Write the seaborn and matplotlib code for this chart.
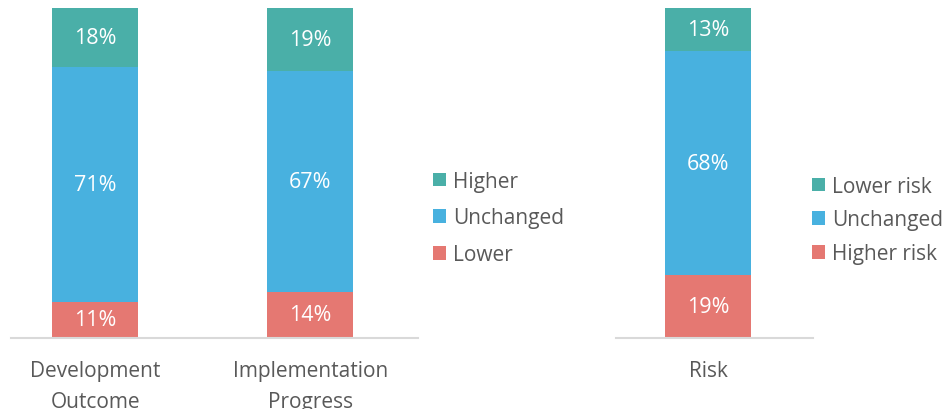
import matplotlib
matplotlib.use("Agg")
import matplotlib.pyplot as plt
import seaborn as sns
import pandas as pd
from matplotlib.patches import Patch

# Left panel: development outcome and implementation progress ratings
categories_left = ["Development\nOutcome", "Implementation\nProgress"]
lower_left = [11, 14]
unchanged_left = [71, 67]
higher_left = [18, 19]
legend_left = ["Higher", "Unchanged", "Lower"]

# Right panel: risk rating
categories_right = ["Risk"]
higher_risk = [19]
unchanged_right = [68]
lower_risk = [13]
legend_right = ["Lower risk", "Unchanged", "Higher risk"]

TEAL = "#4AAFA8"
BLUE = "#48B1DF"
RED = "#E57872"
TEXT = "#595959"
AXIS = "#D9D9D9"
FS = 15
VAL_FS = 15.5

sns.set_theme(style="white")
plt.rcParams["font.family"] = ["Open Sans", "DejaVu Sans"]

W, H = 943, 410
fig = plt.figure(figsize=(W / 100, H / 100), dpi=100)


def px_axes(x0, x1, y0, y1):
    return fig.add_axes([x0 / W, 1 - y1 / H, (x1 - x0) / W, (y1 - y0) / H])


def stacked(ax, cats, bottom, middle, top, xlim):
    df = pd.DataFrame({"cat": cats, "bottom": bottom, "middle": middle, "top": top})
    df["lower_two"] = df["bottom"] + df["middle"]
    df["total"] = df["lower_two"] + df["top"]
    # Cumulative bars drawn tallest first so each segment shows its own colour
    for col, color in [("total", TEAL), ("lower_two", BLUE), ("bottom", RED)]:
        sns.barplot(data=df, x="cat", y=col, color=color, width=0.4, ax=ax,
                    saturation=1, linewidth=0, errorbar=None)
    for i, row in df.iterrows():
        segs = [(0, row["bottom"]), (row["bottom"], row["middle"]),
                (row["lower_two"], row["top"])]
        for start, val in segs:
            ax.text(i, start + val / 2, f"{val}%", ha="center", va="center",
                    color="white", fontsize=VAL_FS)
    ax.set_ylim(0, 100)
    ax.set_xlim(*xlim)
    ax.set_xlabel("")
    ax.set_ylabel("")
    ax.set_yticks([])
    ax.tick_params(axis="x", length=0, pad=16, labelsize=FS, labelcolor=TEXT)
    for lab in ax.get_xticklabels():
        lab.set_linespacing(1.6)
    for side in ["left", "right", "top"]:
        ax.spines[side].set_visible(False)
    ax.spines["bottom"].set_color(AXIS)
    ax.spines["bottom"].set_linewidth(1.5)


def add_legend(ax, labels, x, y, spacing):
    handles = [Patch(facecolor=c, edgecolor="none", label=l)
               for c, l in zip([TEAL, BLUE, RED], labels)]
    leg = ax.legend(handles=handles, loc="center left", bbox_to_anchor=(x / W, 1 - y / H),
                    bbox_transform=fig.transFigure, frameon=False, fontsize=FS,
                    handlelength=0.62, handleheight=0.62, handletextpad=0.35,
                    labelspacing=spacing, borderpad=0, borderaxespad=0)
    for t in leg.get_texts():
        t.set_color(TEXT)


ax1 = px_axes(11, 418, 9, 339)
stacked(ax1, categories_left, lower_left, unchanged_left, higher_left, (-0.393, 1.5))
add_legend(ax1, legend_left, 433, 219, 0.76)

ax2 = px_axes(616, 813, 9, 339)
stacked(ax2, categories_right, higher_risk, unchanged_right, lower_risk, (-0.428, 0.488))
add_legend(ax2, legend_right, 812, 221, 0.62)

fig.savefig("out.png", dpi=100)
